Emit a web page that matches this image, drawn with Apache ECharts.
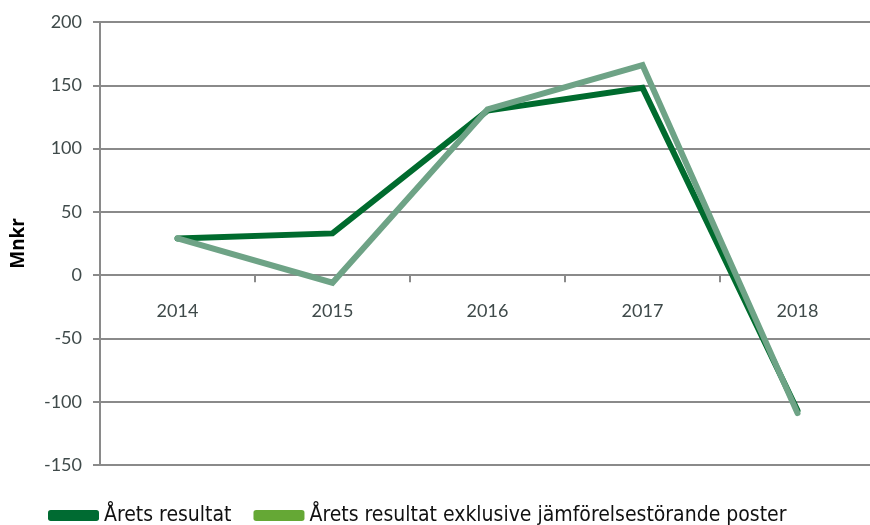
<!DOCTYPE html>
<html>
<head>
<meta charset="utf-8">
<script src="https://cdn.jsdelivr.net/npm/echarts@6/dist/echarts.min.js"></script>
<style>
  html, body { margin: 0; padding: 0; background: #fff; }
  #chart { width: 870px; height: 525px; }
</style>
</head>
<body>
<div id="chart"></div>
<script>
// data
var years = ['2014', '2015', '2016', '2017', '2018'];
var aretsResultat = [29, 33, 130, 148, -107];
var exklusive = [29, -6, 131, 166, -109];
var seriesNames = ['Årets resultat', 'Årets resultat exklusive jämförelsestörande poster'];

var chart = echarts.init(document.getElementById('chart'));

var labelFont = {
  color: '#3f4a4a',
  fontFamily: 'Lato',
  fontSize: 18
};

var option = {
  animation: false,
  grid: {
    left: 100,
    right: -5,
    top: 22,
    bottom: 60,
    outerBoundsMode: 'none'
  },
  legend: {
    top: 500,
    left: 43,
    itemWidth: 51,
    itemHeight: 11,
    itemGap: 22,
    icon: 'roundRect',
    textStyle: {
      color: '#111',
      fontFamily: 'Liberation Sans Narrow, DejaVu Sans Condensed, sans-serif',
      fontSize: 21
    },
    data: [
      { name: seriesNames[0], itemStyle: { color: '#006b32' } },
      { name: seriesNames[1], itemStyle: { color: '#65a835' } }
    ]
  },
  xAxis: {
    type: 'category',
    data: years,
    axisLine: { lineStyle: { color: '#8a8a8a', width: 2 } },
    axisTick: { show: true, length: 7, lineStyle: { color: '#8a8a8a', width: 2 } },
    // labels sit just under the zero line, not at the bottom of the grid
    axisLabel: Object.assign({ margin: -163 }, labelFont)
  },
  yAxis: {
    type: 'value',
    min: -150,
    max: 200,
    interval: 50,
    name: 'Mnkr',
    nameLocation: 'middle',
    nameRotate: 90,
    nameGap: 72,
    nameTextStyle: {
      color: '#000',
      fontFamily: 'Noto Sans',
      fontWeight: 'bold',
      fontSize: 19
    },
    axisLine: { show: true, lineStyle: { color: '#8a8a8a', width: 2 } },
    axisTick: { show: true, length: 7, lineStyle: { color: '#8a8a8a', width: 2 } },
    splitLine: { lineStyle: { color: '#8a8a8a', width: 2 } },
    axisLabel: Object.assign({ margin: 18 }, labelFont)
  },
  series: [
    {
      name: seriesNames[0],
      type: 'line',
      data: aretsResultat,
      symbol: 'none',
      color: '#006b32',
      lineStyle: { width: 6, color: '#006b2e', cap: 'round', join: 'miter' }
    },
    {
      name: seriesNames[1],
      type: 'line',
      data: exklusive,
      symbol: 'none',
      color: '#65a835',
      lineStyle: { width: 6, color: '#6ea386', cap: 'round', join: 'miter' }
    }
  ]
};

chart.setOption(option);
</script>
</body>
</html>
